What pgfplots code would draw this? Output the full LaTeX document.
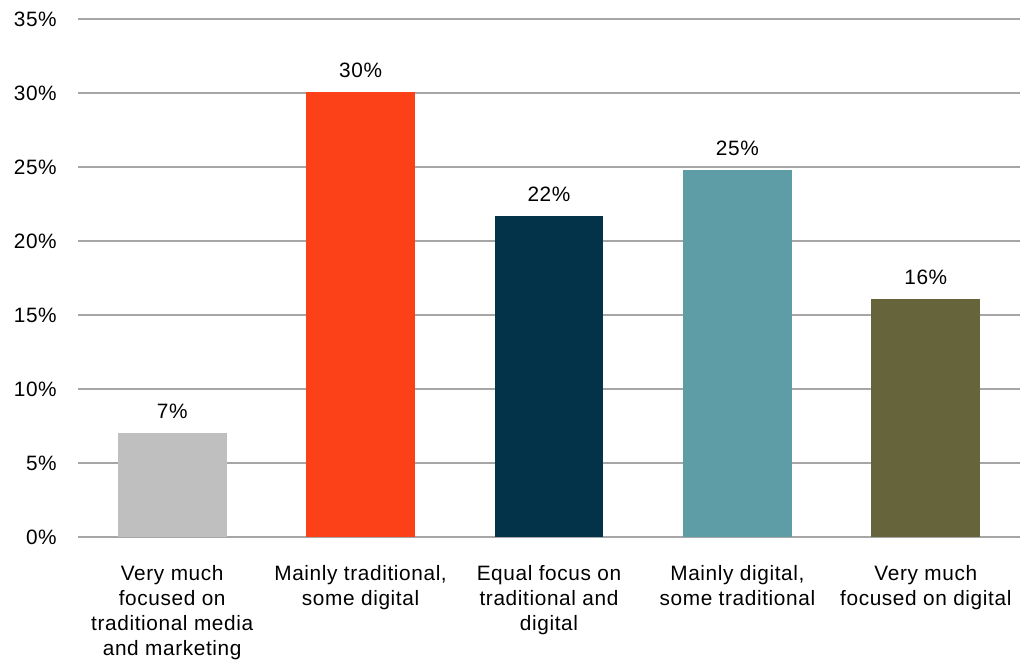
\documentclass[border=0pt]{standalone}
\usepackage{pgfplots}
\pgfplotsset{compat=1.18}
\usepackage{fontspec}
\setmainfont{Liberation Sans}[LetterSpace=3]
\definecolor{cgray}{HTML}{BFBFBF}
\definecolor{cred}{HTML}{FC4017}
\definecolor{cnavy}{HTML}{033349}
\definecolor{cteal}{HTML}{5E9DA6}
\definecolor{colive}{HTML}{66643A}
\definecolor{gridgray}{HTML}{A6A6A6}
\begin{document}
\begin{tikzpicture}
\begin{axis}[
  name=ax,
  scale only axis, width=706.5pt, height=388.5pt,
  xmin=-0.5, xmax=4.5, ymin=0, ymax=35,
  clip=false,
  axis line style={draw=none},
  font=\fontsize{15.6}{18.75}\selectfont,
  ytick={0,5,...,35},
  yticklabels={0\%,5\%,10\%,15\%,20\%,25\%,30\%,35\%},
  yticklabel style={anchor=east, inner sep=0pt, xshift=-15.75pt},
  ymajorgrids, grid style={color=gridgray, line width=1.2pt},
  major tick length=0pt,
  xtick={0,1,2,3,4},
  xticklabels={{Very much\\focused on\\traditional media\\and marketing},
               {Mainly traditional,\\some digital},
               {Equal focus on\\traditional and\\digital},
               {Mainly digital,\\some traditional},
               {Very much\\focused on digital}},
  xticklabel style={align=center, anchor=north, inner sep=0pt, yshift=-21pt},
  ybar, bar width=0.577, bar shift=0pt,
  point meta=explicit symbolic,
  nodes near coords={\pgfplotspointmeta\%},
  nodes near coords style={anchor=south, inner sep=0pt, yshift=10.5pt, text=black},
]
\addplot[fill=cgray, draw=none] coordinates {(0,7.05) [7]};
\addplot[fill=cred, draw=none] coordinates {(1,30.1) [30]};
\addplot[fill=cnavy, draw=none] coordinates {(2,21.7) [22]};
\addplot[fill=cteal, draw=none] coordinates {(3,24.8) [25]};
\addplot[fill=colive, draw=none] coordinates {(4,16.1) [16]};
\end{axis}
\path ([xshift=-58.5pt,yshift=-91.5pt]ax.south west) rectangle ([xshift=0.75pt,yshift=14.25pt]ax.north east);
\end{tikzpicture}
\end{document}
